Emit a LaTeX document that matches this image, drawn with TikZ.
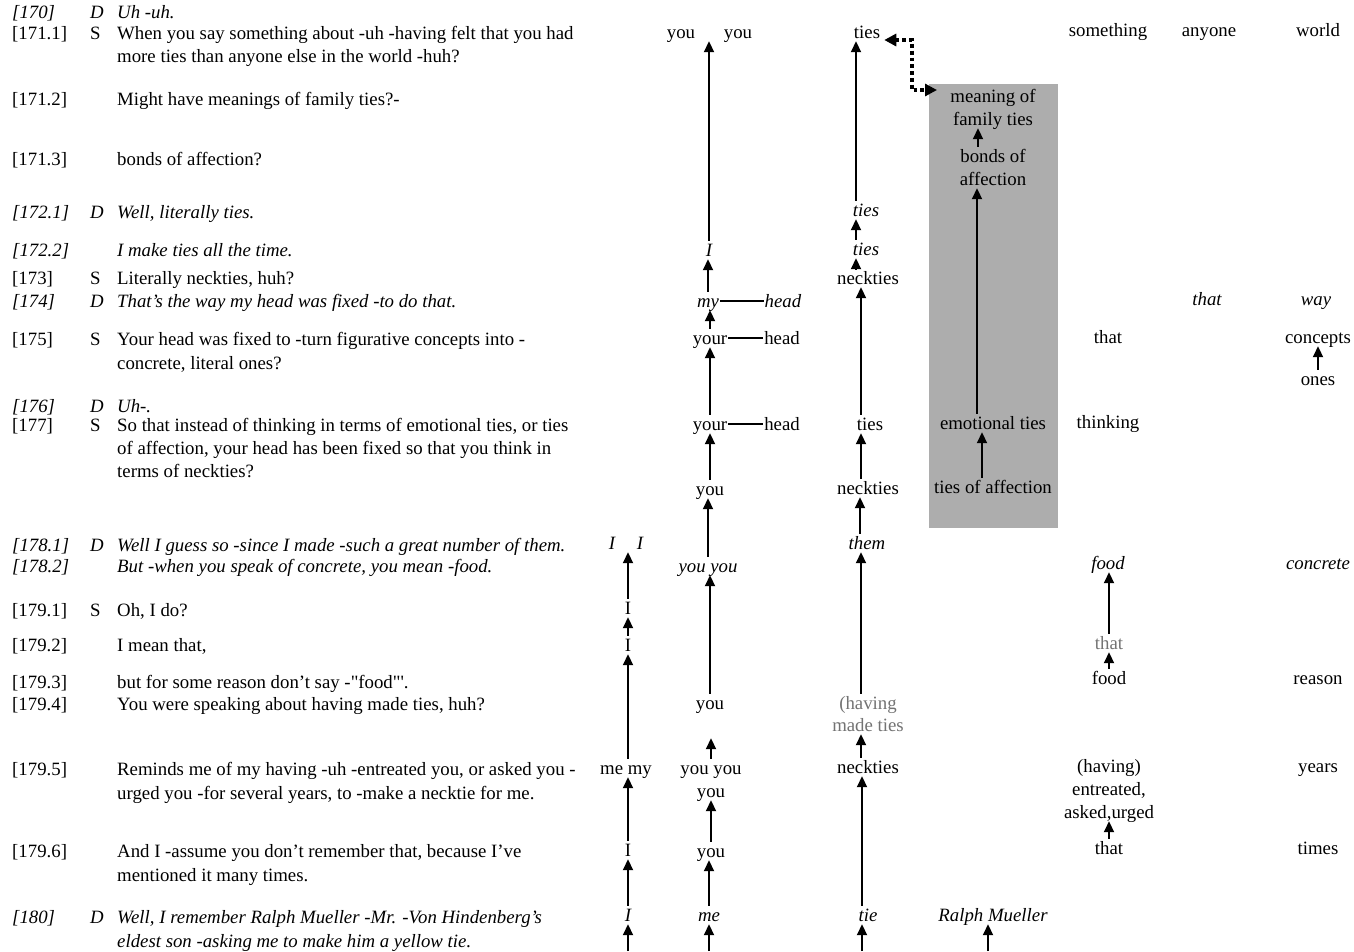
\documentclass[tikz,border=0pt]{standalone}
\usepackage{fontspec}
\setmainfont{Liberation Serif}
\newfontfamily\rawserif{Liberation Serif}[Ligatures=TeXOff]
\usetikzlibrary{arrows.meta}
\begin{document}
\begin{tikzpicture}[x=1pt,y=-1pt,
  wbase/.style={inner xsep=1pt,inner ysep=1pt,text height=14pt,text depth=2pt,font=\fontsize{18.8}{23}\selectfont},
  tx/.style={wbase,anchor=west,inner xsep=0pt},
  itx/.style={tx,font=\fontsize{18.8}{23}\selectfont\itshape},
  w/.style={wbase},
  wi/.style={wbase,font=\fontsize{18.8}{23}\selectfont\itshape},
  wg/.style={wbase,text=black!55},
  arr/.style={line width=1.9pt,-{Triangle[width=10pt,length=11pt]}},
  dotarr/.style={line width=3.8pt,dash pattern=on 3.8pt off 3pt,{Triangle[width=12pt,length=12pt]}-{Triangle[width=12pt,length=12pt]}},
  conn/.style={line width=1.2pt},
  shade/.style={fill=black!32,draw=none,inner sep=0pt}
]
\fill[white] (0,0) rectangle (1354,951);
\useasboundingbox (0,0) rectangle (1354,951);

% ---------- transcript: labels ----------
\node[itx] (L170) at (12,12) {[170]};
\node[tx] (L1711) at (12,33) {[171.1]};
\node[tx] (L1712) at (12,99) {[171.2]};
\node[tx] (L1713) at (12,159) {[171.3]};
\node[itx] (L1721) at (12,212) {[172.1]};
\node[itx] (L1722) at (12,250) {[172.2]};
\node[tx] (L173) at (12,278) {[173]};
\node[itx] (L174) at (12,301) {[174]};
\node[tx] (L175) at (12,339) {[175]};
\node[itx] (L176) at (12,406) {[176]};
\node[tx] (L177) at (12,425) {[177]};
\node[itx] (L1781) at (12,545) {[178.1]};
\node[itx] (L1782) at (12,566) {[178.2]};
\node[tx] (L1791) at (12,610) {[179.1]};
\node[tx] (L1792) at (12,645) {[179.2]};
\node[tx] (L1793) at (12,682) {[179.3]};
\node[tx] (L1794) at (12,704) {[179.4]};
\node[tx] (L1795) at (12,769) {[179.5]};
\node[tx] (L1796) at (12,851) {[179.6]};
\node[itx] (L180) at (12,917) {[180]};

% ---------- speakers ----------
\node[itx] (D170) at (90,12) {D};
\node[tx] (S1711) at (90,33) {S};
\node[itx] (D1721) at (90,212) {D};
\node[tx] (S173) at (90,278) {S};
\node[itx] (D174) at (90,301) {D};
\node[tx] (S175) at (90,339) {S};
\node[itx] (D176) at (90,406) {D};
\node[tx] (S177) at (90,425) {S};
\node[itx] (D1781) at (90,545) {D};
\node[tx] (S1791) at (90,610) {S};
\node[itx] (D180) at (90,917) {D};

% ---------- utterances ----------
\node[itx] (T170) at (117,12) {Uh -uh.};
\node[tx] (T1711a) at (117,33) {When you say something about -uh -having felt that you had};
\node[tx] (T1711b) at (117,56) {more ties than anyone else in the world -huh?};
\node[tx] (T1712) at (117,99) {Might have meanings of family ties?-};
\node[tx] (T1713) at (117,159) {bonds of affection?};
\node[itx] (T1721) at (117,212) {Well, literally ties.};
\node[itx] (T1722) at (117,250) {I make ties all the time.};
\node[tx] (T173) at (117,278) {Literally neckties, huh?};
\node[itx] (T174) at (117,301) {That's the way my head was fixed -to do that.};
\node[tx] (T175a) at (117,339) {Your head was fixed to -turn figurative concepts into -};
\node[tx] (T175b) at (117,363) {concrete, literal ones?};
\node[itx] (T176) at (117,406) {Uh-.};
\node[tx] (T177a) at (117,425) {So that instead of thinking in terms of emotional ties, or ties};
\node[tx] (T177b) at (117,448) {of affection, your head has been fixed so that you think in};
\node[tx] (T177c) at (117,471) {terms of neckties?};
\node[itx] (T1781) at (117,545) {Well I guess so -since I made -such a great number of them.};
\node[itx] (T1782) at (117,566) {But -when you speak of concrete, you mean -food.};
\node[tx] (T1791) at (117,610) {Oh, I do?};
\node[tx] (T1792) at (117,645) {I mean that,};
\node[tx] (T1793) at (117,682) {but for some reason don't say {\rawserif -"food"'.}};
\node[tx] (T1794) at (117,704) {You were speaking about having made ties, huh?};
\node[tx] (T1795a) at (117,769) {Reminds me of my having -uh -entreated you, or asked you -};
\node[tx] (T1795b) at (117,793) {urged you -for several years, to -make a necktie for me.};
\node[tx] (T1796a) at (117,851) {And I -assume you don't remember that, because I've};
\node[tx] (T1796b) at (117,875) {mentioned it many times.};
\node[itx] (T180a) at (117,917) {Well, I remember Ralph Mueller -Mr. -Von Hindenberg's};
\node[itx] (T180b) at (117,941) {eldest son -asking me to make him a yellow tie.};

% ---------- shaded box ----------
\node[shade,minimum width=129pt,minimum height=444pt] (box) at (993.5,306) {};

% ---------- column A ----------
\node[wi] (A1a) at (612,543) {I};
\node[wi] (A1b) at (640,543) {I};
\node[w] (A2) at (628,608) {I};
\node[w] (A3) at (628,645) {I};
\node[w] (A4) at (626,768) {me my};
\node[w] (A5) at (628,850) {I};
\node[wi] (A6) at (628,915) {I};
\coordinate (Abot) at (628,951);

% ---------- column B ----------
\node[w] (B1a) at (681,32) {you};
\node[w] (B1b) at (738,32) {you};
\node[wi] (B2) at (709,250) {I};
\node[wi] (B3) at (708,301) {my};
\node[wi] (B3h) at (783,301) {head};
\node[w] (B4) at (710,338) {your};
\node[w] (B4h) at (782,338) {head};
\node[w] (B5) at (710,424) {your};
\node[w] (B5h) at (782,424) {head};
\node[w] (B6) at (710,489) {you};
\node[wi] (B7) at (708,566) {you you};
\node[w] (B8) at (710,703) {you};
\node[w] (B9) at (711,768) {you you};
\node[w] (B10) at (711,791) {you};
\node[w] (B11) at (711,851) {you};
\node[wi] (B12) at (709,915) {me};
\coordinate (Bbot) at (709,951);

% ---------- column C ----------
\node[w] (C1) at (867,32) {ties};
\node[wi] (C2) at (866,210) {ties};
\node[wi] (C3) at (866,249) {ties};
\node[w] (C4) at (868,278) {neckties};
\node[w] (C5) at (870,424) {ties};
\node[w] (C6) at (868,488) {neckties};
\node[wi] (C7) at (867,543) {them};
\node[wg] (C8) at (868,703) {(having};
\node[wg] (C9) at (868,725) {made ties};
\node[w] (C10) at (868,767) {neckties};
\node[wi] (C11) at (868,915) {tie};
\coordinate (Cbot) at (862,951);

% ---------- column D (box contents) ----------
\node[w] (M1) at (993,96) {meaning of};
\node[w] (M2) at (993,119) {family ties};
\node[w] (Bo1) at (993,156) {bonds of};
\node[w] (Bo2) at (993,179) {affection};
\node[w] (Em) at (993,423) {emotional ties};
\node[w] (Ta) at (993,487) {ties of affection};
\node[wi] (R) at (993,915) {Ralph Mueller};
\coordinate (Rbot) at (988,951);

% ---------- column E/F/G ----------
\node[w] (E1) at (1108,30) {something};
\node[w] (E2) at (1108,337) {that};
\node[w] (E3) at (1108,422) {thinking};
\node[wi] (E4) at (1108,563) {food};
\node[wg] (E5) at (1109,643) {that};
\node[w] (E6) at (1109,678) {food};
\node[w] (E7) at (1109,766) {(having)};
\node[w] (E8) at (1109,789) {entreated,};
\node[w] (E9) at (1109,812) {asked,urged};
\node[w] (E10) at (1109,848) {that};
\node[w] (F1) at (1209,30) {anyone};
\node[wi] (F2) at (1207,299) {that};
\node[w] (G1) at (1318,30) {world};
\node[wi] (G2) at (1316,299) {way};
\node[w] (G3) at (1318,337) {concepts};
\node[w] (G4) at (1318,379) {ones};
\node[wi] (G5) at (1318,563) {concrete};
\node[w] (G6) at (1318,678) {reason};
\node[w] (G7) at (1318,766) {years};
\node[w] (G8) at (1318,848) {times};

% ---------- connectors: column A ----------
\draw[arr] (A2.north) -- (A2.north |- A1a.south);
\draw[arr] (A3.north) -- (A3.north |- A2.south);
\draw[arr] ([xshift=2pt]A4.north) -- ([xshift=2pt]A4.north |- A3.south);
\draw[arr] (A5.north) -- (A5.north |- A4.south);
\draw[arr] (A6.north) -- (A6.north |- A5.south);
\draw[arr] (Abot) -- (Abot |- A6.south);

% ---------- connectors: column B ----------
\draw[arr] (B2.north) -- (B2.north |- B1a.south);
\draw[arr] (B3.north) -- (B3.north |- B2.south);
\draw[arr] (B4.north) -- (B4.north |- B3.south);
\draw[arr] (B5.north) -- (B5.north |- B4.south);
\draw[arr] (B6.north) -- (B6.north |- B5.south);
\draw[arr] (B7.north) -- (B7.north |- B6.south);
\draw[arr] (B8.north) -- (B8.north |- B7.south);
\draw[arr,shorten >=26pt] (B9.north) -- (B9.north |- B8.south);
\draw[arr] (B11.north) -- (B11.north |- B10.south);
\draw[arr] (B12.north) -- (B12.north |- B11.south);
\draw[arr] (Bbot) -- (Bbot |- B12.south);
\draw[conn] (B3.east) -- (B3h.west);
\draw[conn] (B4.east) -- (B4h.west);
\draw[conn] (B5.east) -- (B5h.west);

% ---------- connectors: column C ----------
\draw[arr] ([xshift=-10pt]C2.north) -- ([xshift=-10pt]C2.north |- C1.south);
\draw[arr] ([xshift=-10pt]C3.north) -- ([xshift=-10pt]C3.north |- C2.south);
\draw[arr] ([xshift=-12pt]C4.north) -- ([xshift=-12pt]C4.north |- C3.south);
\draw[arr] ([xshift=-9pt]C5.north) -- ([xshift=-9pt]C5.north |- C4.south);
\draw[arr] ([xshift=-7pt]C6.north) -- ([xshift=-7pt]C6.north |- C5.south);
\draw[arr] ([xshift=-7pt]C7.north) -- ([xshift=-7pt]C7.north |- C6.south);
\draw[arr] ([xshift=-7pt]C8.north) -- ([xshift=-7pt]C8.north |- C7.south);
\draw[arr] ([xshift=-7pt]C10.north) -- ([xshift=-7pt]C10.north |- C9.south);
\draw[arr] ([xshift=-6pt]C11.north) -- ([xshift=-6pt]C11.north |- C10.south);
\draw[arr] (Cbot) -- (Cbot |- C11.south);

% ---------- connectors: box ----------
\draw[arr] ([xshift=-15pt]Bo1.north) -- ([xshift=-15pt]Bo1.north |- M2.south);
\draw[arr] ([xshift=-16pt]Em.north) -- ([xshift=-16pt]Em.north |- Bo2.south);
\draw[arr] ([xshift=-11pt]Ta.north) -- ([xshift=-11pt]Ta.north |- Em.south);
\draw[arr] (Rbot) -- (Rbot |- R.south);

% dotted double arrow between "ties" and the shaded box
\coordinate (dk) at (912,40);
\coordinate (dtip) at (937,90);
\draw[dotarr] ([xshift=3pt,yshift=-8pt]C1.east) -- (dk) -- (dk |- dtip) -- (dtip);

% ---------- connectors: right columns ----------
\draw[arr] (E5.north) -- (E5.north |- E4.south);
\draw[arr] (E6.north) -- (E6.north |- E5.south);
\draw[arr] (E10.north) -- (E10.north |- E9.south);
\draw[arr] (G4.north) -- (G4.north |- G3.south);
\end{tikzpicture}
\end{document}
